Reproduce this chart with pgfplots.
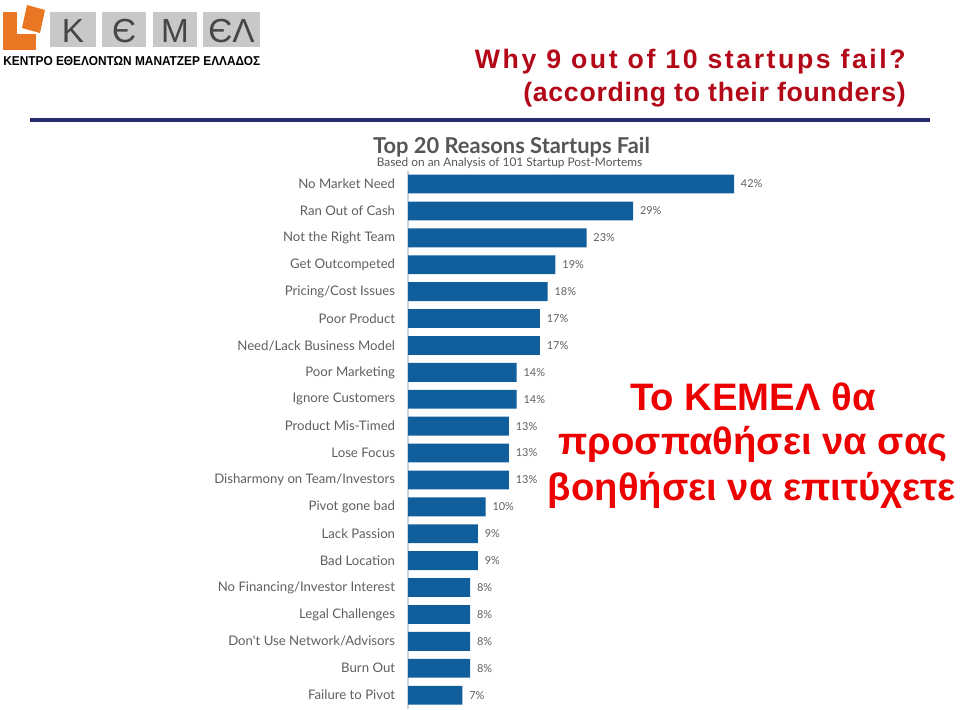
\documentclass[border=0pt]{standalone}
\usepackage{fontspec}
\usepackage{graphicx}
\usepackage{pgfplots}
\pgfplotsset{compat=1.18}
\setmainfont{Liberation Sans}
\newfontfamily\gill{Lato}
\definecolor{barblue}{RGB}{16,94,155}
\definecolor{lblgray}{RGB}{95,95,95}
\definecolor{ttlgray}{RGB}{85,85,85}
\definecolor{darkred}{RGB}{178,8,24}
\definecolor{brightred}{RGB}{236,0,0}
\definecolor{navy}{RGB}{38,42,105}
\definecolor{kemorange}{RGB}{232,118,34}
\definecolor{kemgray}{RGB}{200,200,200}
\definecolor{kemtext}{RGB}{70,70,70}
\definecolor{axgray}{RGB}{200,212,222}
\begin{document}
\begin{tikzpicture}
\begin{scope}[x=0.75pt,y=-0.75pt]
\useasboundingbox (0,0) rectangle (960,710);
% logo
\fill[kemorange] (3,12) rectangle (17,50);
\fill[kemorange] (3,34) rectangle (36,50);
\fill[kemorange] (27,5) -- (45,10) -- (40,33) -- (22,28) -- cycle;
\fill[kemgray] (50,12) rectangle (96,47);
\fill[kemgray] (102,12) rectangle (146,47);
\fill[kemgray] (153,12) rectangle (197,47);
\fill[kemgray] (203,12) rectangle (260,47);
\node[text=kemtext, font=\fontsize{25}{27}\selectfont, anchor=base] at (73,43) {K};
\node[text=kemtext, font=\fontsize{25}{27}\selectfont, anchor=base] at (124,43) {Є};
\node[text=kemtext, font=\fontsize{25}{27}\selectfont, anchor=base] at (175,43) {M};
\node[text=kemtext, font=\fontsize{25}{27}\selectfont, anchor=base] at (231.5,43) {ЄΛ};
\node[anchor=base west, inner sep=0pt] at (3,66) {\resizebox{192.75pt}{6.75pt}{\bfseries ΚΕΝΤΡΟ ΕΘΕΛΟΝΤΩΝ ΜΑΝΑΤΖΕΡ ΕΛΛΑΔΟΣ}};
% red title
\node[anchor=base east, inner sep=0pt, text=darkred] at (906,69)
  {\fontsize{20}{24}\bfseries\addfontfeature{LetterSpace=9.6}Why 9 out of 10 startups fail?};
\node[anchor=base east, inner sep=0pt, text=darkred] at (906,101)
  {\fontsize{20}{24}\bfseries\addfontfeature{LetterSpace=2.7}(according to their founders)};
\draw[navy, line width=2.4pt] (30,120) -- (930,120);
% chart title
\node[anchor=base, inner sep=0pt, text=ttlgray] at (511.5,153)
  {\gill\bfseries\fontsize{16.4}{18}\selectfont Top 20 Reasons Startups Fail};
\node[anchor=base, inner sep=0pt, text=ttlgray] at (509.5,166)
  {\gill\fontsize{8.9}{10}\selectfont Based on an Analysis of 101 Startup Post-Mortems};
% greek text
\node[anchor=base, inner sep=0pt, text=brightred] at (753,410)
  {\fontsize{28.7}{32}\bfseries Το ΚΕΜΕΛ θα};
\node[anchor=base, inner sep=0pt, text=brightred] at (753,454)
  {\fontsize{28.7}{32}\bfseries προσπαθήσει να σας};
\node[anchor=base, inner sep=0pt, text=brightred] at (752,500)
  {\fontsize{28.7}{32}\bfseries βοηθήσει να επιτύχετε};
\end{scope}
\begin{axis}[
  at={(306pt,-531.45pt)}, anchor=south west,
  scale only axis, width=244.5pt, height=403.5pt,
  xbar, bar width=0.7,
  xmin=0, xmax=42, ymin=-0.5, ymax=19.5, y dir=reverse,
  axis x line=none, axis y line*=left,
  y axis line style={-, draw=axgray, line width=0.8pt},
  major tick length=0pt,
  ytick={0,...,19},
  yticklabels={No Market Need, Ran Out of Cash, Not the Right Team, Get Outcompeted, Pricing/Cost Issues, Poor Product, Need/Lack Business Model, Poor Marketing, Ignore Customers, Product Mis-Timed, Lose Focus, Disharmony on Team/Investors, Pivot gone bad, Lack Passion, Bad Location, No Financing/Investor Interest, Legal Challenges, Don't Use Network/Advisors, Burn Out, Failure to Pivot},
  yticklabel style={font=\gill\fontsize{9.9}{11}\selectfont, text=lblgray, inner sep=0pt, xshift=-9.5pt},
  nodes near coords={\pgfmathprintnumber[assume math mode=true]{\pgfplotspointmeta}\%},
  nodes near coords align={horizontal},
  every node near coord/.append style={font=\gill\fontsize{8.2}{9}\selectfont, text=lblgray, inner sep=0pt, anchor=west, xshift=5pt},
  clip=false,
]
\addplot[fill=barblue, draw=none] coordinates {
(42,0) (29,1) (23,2) (19,3) (18,4) (17,5) (17,6) (14,7) (14,8) (13,9)
(13,10) (13,11) (10,12) (9,13) (9,14) (8,15) (8,16) (8,17) (8,18) (7,19)
};
\end{axis}
\end{tikzpicture}
\end{document}
